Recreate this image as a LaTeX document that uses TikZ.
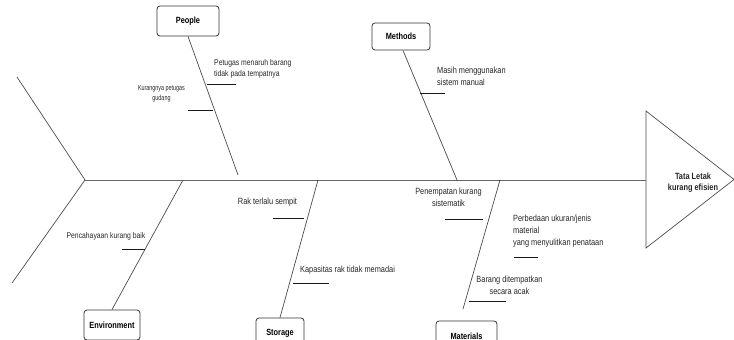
\documentclass[tikz,border=0pt]{standalone}
\usepackage{fontspec}
\setmainfont[FakeStretch=0.82]{Liberation Sans}
\newfontfamily\narrowfont[FakeStretch=0.72]{Liberation Sans}
\begin{document}
\begin{tikzpicture}[x=1pt,y=-1pt,
  box/.style={draw=black!80, rounded corners=3pt, line width=0.8pt, font=\bfseries\fontsize{9}{10.5}\selectfont, minimum height=30pt, inner sep=0pt},
  lbl/.style={font=\fontsize{9}{12}\selectfont, inner sep=0pt, text=black!85},
  bone/.style={draw=black!70, line width=0.7pt},
  spine/.style={draw=black!60, line width=1pt},
  uline/.style={draw=black!90, line width=0.8pt}]
\useasboundingbox (0,0) rectangle (734,340);
\clip (0,0) rectangle (734,340);
% head
\draw[bone] (646,111) -- (734,179.5) -- (646,248) -- cycle;
\node[lbl, font=\bfseries\fontsize{9}{11}\selectfont, align=center] (effect) at (693,183) {Tata Letak\\kurang efisien};
% spine and tail
\coordinate (tail) at (85,180);
\coordinate (head) at (646,180);
\coordinate (tailA) at (17,77);
\coordinate (tailB) at (12,283);
\draw[spine] (tail) -- (head);
\draw[bone] (tailA) -- (tail) -- (tailB);
% category boxes
\node[box, minimum width=62pt] (people) at (188,21) {People};
\node[box, minimum width=58pt, minimum height=27pt] (methods) at (401,36.5) {Methods};
\node[box, minimum width=56pt] (env) at (112,325) {Environment};
\node[box, minimum width=48pt] (storage) at (280,333) {Storage};
\node[box, minimum width=61pt] (materials) at (466.5,336) {Materials};
% bone ends
\coordinate (pE) at (238,175);
\coordinate (mE) at (457,180);
\coordinate (eE) at (183,180);
\coordinate (sE) at (318,180);
\coordinate (maE) at (500,180);
\coordinate (maS) at (463,309);
\draw[bone] (people.south) -- (pE);
\draw[bone] (methods.south) ++(2,0) -- (mE);
\draw[bone] (env.north) -- (eE);
\draw[bone] (storage.north) -- (sE);
\draw[bone] (maS) -- (maE);
% causes
\node[lbl, font=\fontsize{8.35}{11.3}\selectfont, anchor=west, align=left] (c1) at (214,68.5) {Petugas menaruh barang\\tidak pada tempatnya};
\node[lbl, font=\narrowfont\fontsize{7.5}{9.5}\selectfont, align=center] (c2) at (161.5,93.5) {Kurangnya petugas\\gudang};
\node[lbl, anchor=west, align=left] (c3) at (437,76) {Masih menggunakan\\sistem manual};
\node[lbl, font=\fontsize{8.3}{11}\selectfont] (c4) at (106,236) {Pencahayaan kurang baik};
\node[lbl] (c5) at (267.5,202) {Rak terlalu sempit};
\node[lbl, anchor=west] (c6) at (300,270) {Kapasitas rak tidak memadai};
\node[lbl, align=center] (c7) at (448.5,197.5) {Penempatan kurang\\sistematik};
\node[lbl, anchor=west, align=left] (c8) at (513,231.5) {Perbedaan ukuran/jenis\\material\\yang menyulitkan penataan};
\node[lbl, align=center] (c9) at (509.5,285) {Barang ditempatkan\\secara acak};
% underlines
\coordinate (u1a) at (207,84);  \coordinate (u1b) at (236,84);
\coordinate (u2a) at (188,110); \coordinate (u2b) at (213,110);
\coordinate (u3a) at (420,93);  \coordinate (u3b) at (445,93);
\coordinate (u4a) at (122,249); \coordinate (u4b) at (145,249);
\coordinate (u5a) at (273,218); \coordinate (u5b) at (304,218);
\coordinate (u6a) at (293,283); \coordinate (u6b) at (329,283);
\coordinate (u7a) at (445,219); \coordinate (u7b) at (483,219);
\coordinate (u8a) at (514,257); \coordinate (u8b) at (538,257);
\coordinate (u9a) at (469,301); \coordinate (u9b) at (506,301);
\foreach \i in {1,...,9} {\draw[uline] (u\i a) -- (u\i b);}
\end{tikzpicture}
\end{document}
